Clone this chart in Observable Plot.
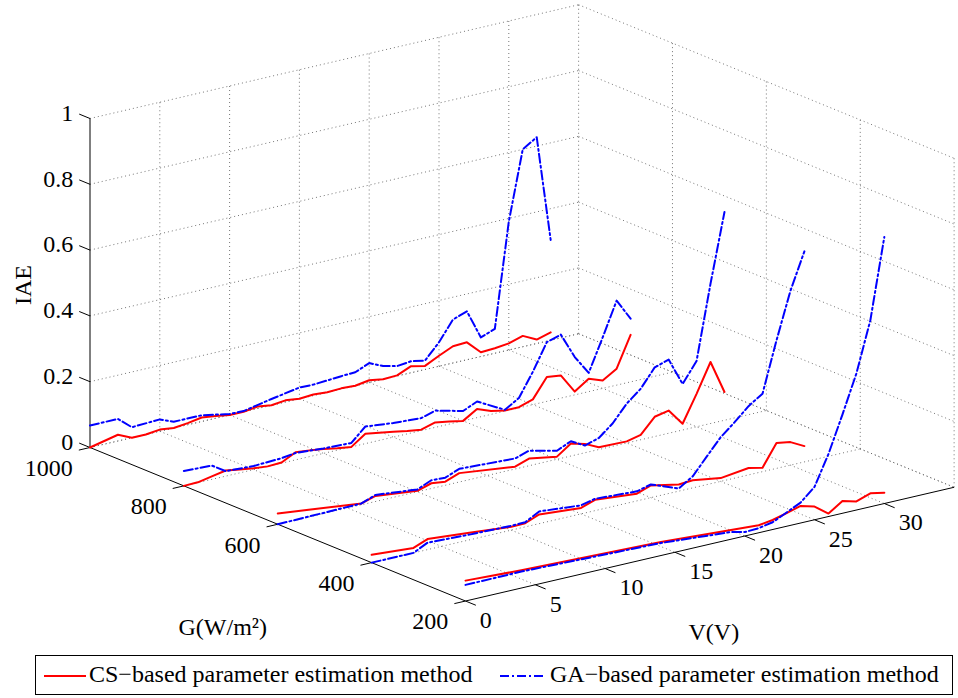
<!DOCTYPE html>
<html><head><meta charset="utf-8">
<script src="https://cdn.jsdelivr.net/npm/d3@7"></script>
<script src="https://cdn.jsdelivr.net/npm/@observablehq/plot@0.6"></script>
<style>
body{margin:0;background:#fff;font-family:"Liberation Serif","Times New Roman",serif;}
#chart{position:absolute;left:0;top:0;}
#legend{position:absolute;left:35px;top:655px;width:918px;height:40px;border:1px solid #000;box-sizing:border-box;font-size:24px;}
#legend span{position:absolute;top:5px;white-space:nowrap;}
#legend svg{position:absolute;top:0;left:0;}
</style></head><body>
<div id="chart"></div>
<div id="legend">
<svg width="918" height="40"><line x1="8" x2="50" y1="20" y2="20" stroke="#ff0000" stroke-width="2"/><line x1="464" x2="510" y1="20" y2="20" stroke="#0000ff" stroke-width="2" stroke-dasharray="9,3,2,3"/></svg>
<span style="left:53px">CS−based parameter estimation method</span>
<span style="left:514px">GA−based parameter estimation method</span>
</div>
<script>
// ---- axis ticks ----
const vTicks = [0, 5, 10, 15, 20, 25, 30];
const gTicks = [200, 400, 600, 800, 1000];
const zTicks = [0, 0.2, 0.4, 0.6, 0.8, 1];
const vGrid = [5, 10, 15, 20, 25, 30, 35];
const vMax = 35, gMin = 200, gMax = 1000;

// ---- series: V (volts) and IAE per irradiance level ----
const csV1000 = [0,2,3,4,5,6,7,8,9,10,11,12,13,14,15,16,17,18,19,20,21,22,23,24,25,26,27,28,29,30,31,32,33];
const csZ1000 = [0,0.019,0,0,0.005,0,0.005,0.012,0.007,0,0,0.006,0,0.005,0,0.003,0,0.002,0,0.007,0,0.002,0.02,0.011,0.032,0.051,0.053,0.013,0.015,0.02,0.033,0.012,0.024];
const gaV1000 = [0,2,3,5,6,8,10,11,13,15,16,18,19,20,21,22,23,24,25,26,27,28,29,30,31,32,33];
const gaZ1000 = [0.067,0.067,0.032,0.036,0.019,0.019,0.003,0.002,0.019,0.034,0.033,0.039,0.041,0.059,0.04,0.03,0.035,0.027,0.073,0.132,0.147,0.058,0.074,0.39,0.60,0.627,0.305];

const csV800 = [0,1,2,3,4,5,6,7,8,9,10,11,12,13,14,15,16,17,18,19,20,21,22,23,24,25,26,27,28,29,30,31,32];
const csZ800 = [0,0.001,0.009,0.017,0.010,0.004,0,0.002,0.023,0.019,0.013,0.006,0,0.03,0.023,0.016,0.009,0.003,0.015,0.008,0,0.026,0.01,0.002,0.002,0.016,0.074,0.069,0.010,0.039,0.024,0.050,0.143];
const gaV800 = [0,2,3,5,7,8,10,12,13,15,17,18,20,21,23,24,25,26,27,28,29,30,31,32];
const gaZ800 = [0.045,0.042,0.015,0.011,0.015,0.021,0.015,0.012,0.052,0.043,0.038,0.051,0.03,0.049,0.004,0.03,0.10,0.18,0.193,0.115,0.057,0.155,0.257,0.192];

const csV600 = [0,6,7,10,11,12,13,17,18,20,21,22,23,25,26,27,28,29,30,31,32];
const csZ600 = [0.033,0.004,0.017,0.003,0.016,0.011,0.027,0.007,0.022,0.008,0.038,0.027,0.007,0.005,0.015,0.060,0.069,0.019,0.100,0.187,0.086];
const gaV600 = [0,6,7,10,11,12,13,17,18,20,21,22,23,24,25,26,27,28,29,30,31,32];
const gaZ600 = [0,0.004,0.020,0.007,0.025,0.023,0.04,0.032,0.046,0.026,0.045,0.022,0.035,0.07,0.12,0.155,0.21,0.224,0.14,0.2,0.425,0.633];

const csV400 = [0,3,4,7,10,11,12,15,16,19,20,22,23,25,27,28,29,30,31];
const csZ400 = [0.024,0.015,0.032,0.022,0.010,0.011,0.028,0.018,0.033,0.022,0.037,0.020,0.023,0.010,0.021,0.012,0.077,0.070,0.048];
const gaV400 = [0,3,4,7,10,11,12,15,16,19,20,22,23,24,25,26,27,28,29,30,31];
const gaZ400 = [0,0,0.021,0.016,0.013,0.014,0.037,0.026,0.036,0.029,0.040,0.008,0.035,0.085,0.134,0.17,0.209,0.237,0.389,0.53,0.64];

const csV200 = [0,4,14,21,22,23,24,25,26,27,28,29,30];
const csZ200 = [0.062,0.054,0.041,0.023,0.029,0.040,0.052,0.040,0.009,0.037,0.026,0.041,0.033];
const gaV200 = [0,4,14,19,20,21,22,23,24,25,26,27,28,29,30];
const gaZ200 = [0.049,0.05,0.038,0.022,0.012,0.014,0.022,0.042,0.062,0.10,0.19,0.30,0.415,0.567,0.81];

const seriesList = [
  {G:1000, method:"CS", V:csV1000, Z:csZ1000}, {G:1000, method:"GA", V:gaV1000, Z:gaZ1000},
  {G:800, method:"CS", V:csV800, Z:csZ800}, {G:800, method:"GA", V:gaV800, Z:gaZ800},
  {G:600, method:"CS", V:csV600, Z:csZ600}, {G:600, method:"GA", V:gaV600, Z:gaZ600},
  {G:400, method:"CS", V:csV400, Z:csZ400}, {G:400, method:"GA", V:gaV400, Z:gaZ400},
  {G:200, method:"CS", V:csV200, Z:csZ200}, {G:200, method:"GA", V:gaV200, Z:gaZ200}
];

// ---- orthographic view (MATLAB-like azimuth/elevation) ----
const U = (V, G) => 13.96 * V + 0.4694 * (gMax - G);
const W = (V, G, Z) => 3.25 * V - 0.1919 * (gMax - G) + 329 * Z;

const pts = [];
for (const s of seriesList) s.V.forEach((v, i) => pts.push({key: s.method + s.G, method: s.method, V: v, G: s.G, Z: s.Z[i]}));

const seg = (a, b) => ({a, b});
const grid = [];
for (const v of vGrid) grid.push(seg([v, gMax, 0], [v, gMax, 1]));
for (const z of zTicks) grid.push(seg([0, gMax, z], [vMax, gMax, z]));
for (const g of gTicks.filter(g => g < gMax)) grid.push(seg([vMax, g, 0], [vMax, g, 1]));
for (const z of zTicks) grid.push(seg([vMax, gMax, z], [vMax, gMin, z]));
for (const v of vGrid) grid.push(seg([v, gMax, 0], [v, gMin, 0]));
for (const g of gTicks.filter(g => g > gMin)) grid.push(seg([0, g, 0], [vMax, g, 0]));

const axesLines = [
  seg([0, gMax, 0], [0, gMax, 1]),
  seg([0, gMax, 0], [0, gMin, 0]),
  seg([0, gMin, 0], [vMax, gMin, 0])
];
const tickZ = zTicks.map(z => ({...seg([0, gMax, z], [0, gMax + 23, z]), label: String(z)}));
const tickG = gTicks.map(g => ({...seg([0, g, 0], [-0.8, g, 0]), label: String(g)}));
const tickV = vTicks.map(v => ({...seg([v, gMin, 0], [v, gMin - 22, 0]), label: String(v)}));

const x1 = d => U(d.a[0], d.a[1]), y1 = d => W(...d.a);
const x2 = d => U(d.b[0], d.b[1]), y2 = d => W(...d.b);
const font = "Liberation Serif";
const fs = 24;

const chart = Plot.plot({
  width: 958, height: 648, margin: 0,
  x: {domain: [-89.5, 868.5], range: [0, 958], axis: null},
  y: {domain: [447 - 648, 447], range: [648, 0], axis: null},
  style: {fontFamily: font, background: "#fff"},
  marks: [
    Plot.link(grid, {x1, y1, x2, y2, stroke: "#666", strokeWidth: 0.9, strokeDasharray: "1,3"}),
    Plot.link(axesLines, {x1, y1, x2, y2, stroke: "#000", strokeWidth: 1}),
    Plot.link([...tickZ, ...tickG, ...tickV], {x1, y1, x2, y2, stroke: "#000", strokeWidth: 1}),
    Plot.text(tickZ, {x: x2, y: y2, text: "label", textAnchor: "end", dx: -6, dy: -1, fontSize: fs, fill: "#000"}),
    Plot.text(tickG, {x: x2, y: y2, text: "label", textAnchor: "end", dx: -6, dy: 18, fontSize: fs, fill: "#000"}),
    Plot.text(tickV, {x: x2, y: y2, text: "label", textAnchor: "start", dx: 4, dy: 15, fontSize: fs, fill: "#000"}),
    Plot.text([{V: 0, G: gMax, Z: 0.5}], {x: d => U(d.V, d.G), y: d => W(d.V, d.G, d.Z), text: () => "IAE", rotate: -90, dx: -67, dy: 2, fontSize: fs, fill: "#000"}),
    Plot.text([{V: 0, G: 600, Z: 0}], {x: d => U(d.V, d.G), y: d => W(d.V, d.G, d.Z), text: () => "G(W/m²)", dx: -55, dy: 103, fontSize: fs, fill: "#000"}),
    Plot.text([{V: 17.5, G: gMin, Z: 0}], {x: d => U(d.V, d.G), y: d => W(d.V, d.G, d.Z), text: () => "V(V)", dx: 4, dy: 88, fontSize: fs, fill: "#000"}),
    Plot.line(pts.filter(d => d.method === "CS"), {x: d => U(d.V, d.G), y: d => W(d.V, d.G, d.Z), z: "key", stroke: "#ff0000", strokeWidth: 2, curve: "linear"}),
    Plot.line(pts.filter(d => d.method === "GA"), {x: d => U(d.V, d.G), y: d => W(d.V, d.G, d.Z), z: "key", stroke: "#0000ff", strokeWidth: 2, strokeDasharray: "9,3,2,3", curve: "linear"})
  ]
});
document.getElementById("chart").appendChild(chart);
</script>
</body></html>
